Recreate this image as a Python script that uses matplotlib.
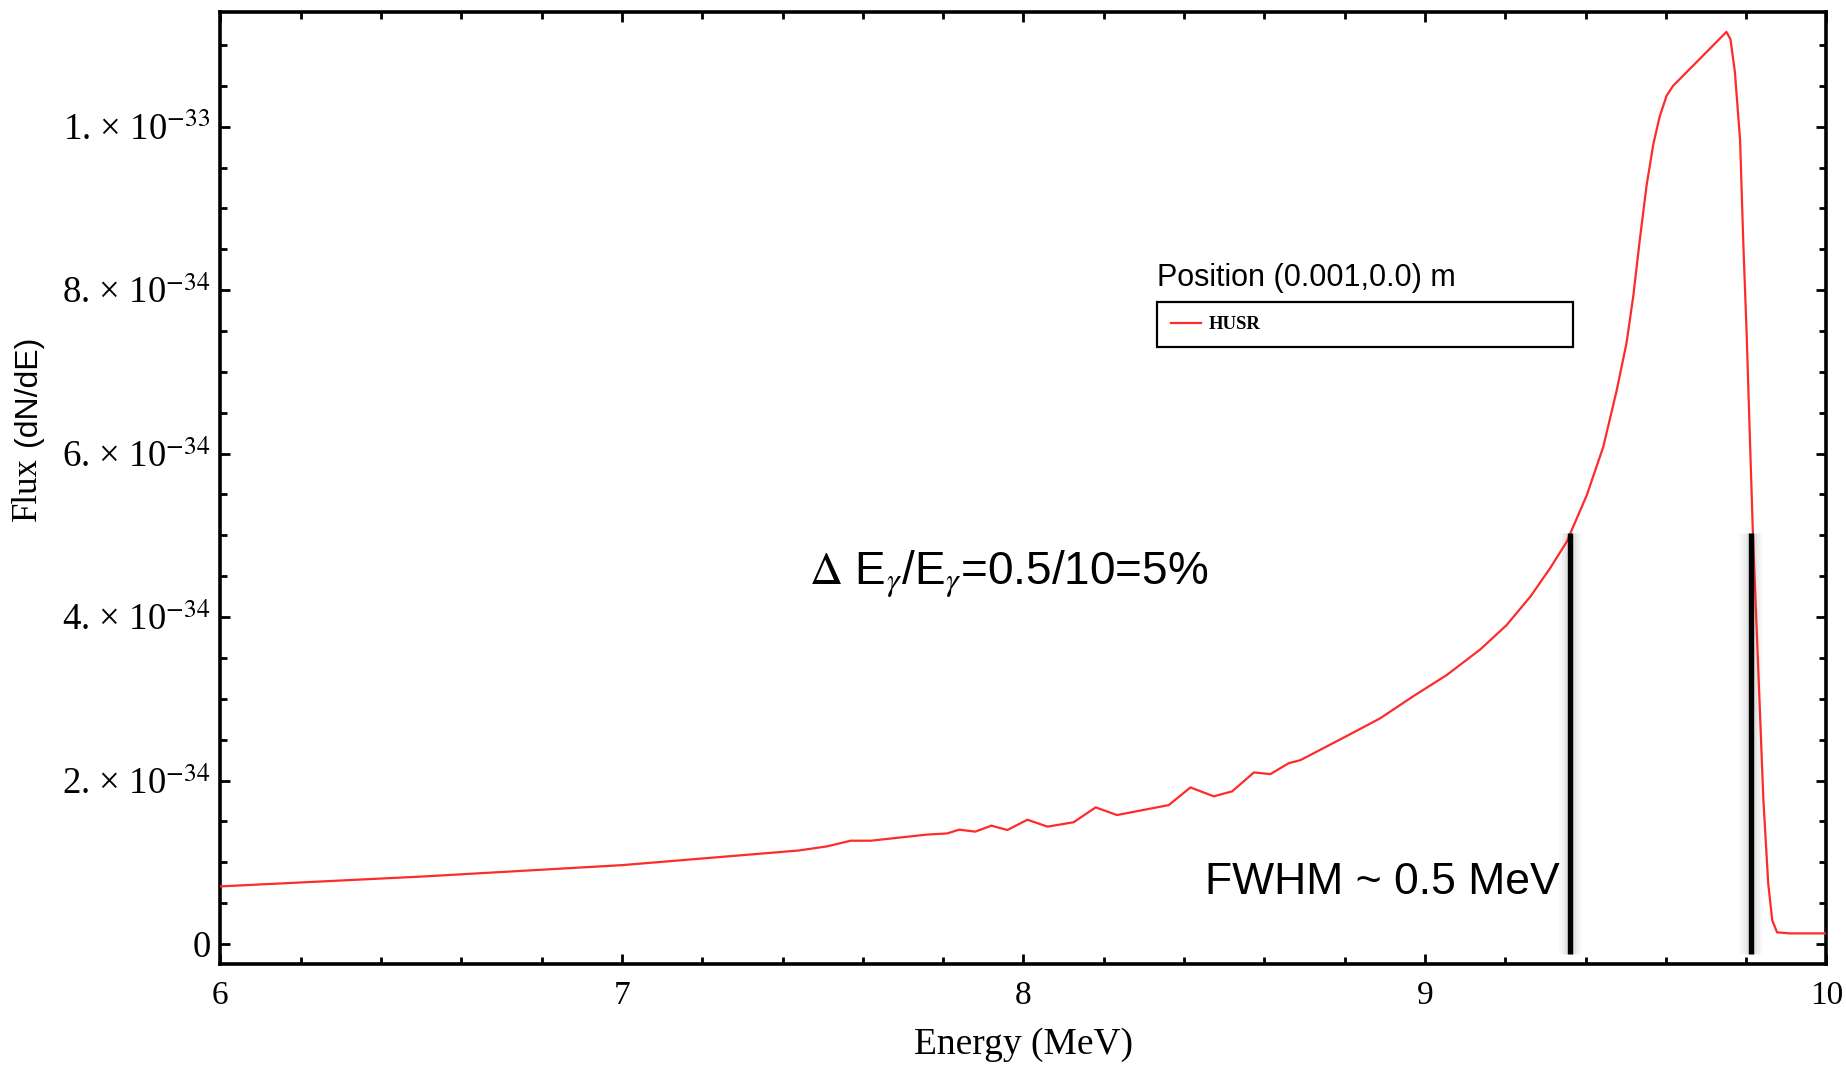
import matplotlib
matplotlib.use("Agg")
import matplotlib.pyplot as plt

# spectrum, flux in units of 1e-33
energy = [6.0, 6.5, 7.0, 7.44, 7.51, 7.57, 7.62, 7.76, 7.81, 7.84, 7.88, 7.92,
          7.96, 8.01, 8.06, 8.125, 8.18, 8.233, 8.362, 8.416, 8.474, 8.52,
          8.574, 8.615, 8.661, 8.69, 8.806, 8.888, 8.972, 9.054, 9.138, 9.203,
          9.263, 9.312, 9.353, 9.403, 9.444, 9.477, 9.502, 9.519, 9.535, 9.552,
          9.569, 9.585, 9.602, 9.618, 9.751, 9.761, 9.772, 9.785, 9.793, 9.801,
          9.809, 9.817, 9.830, 9.843, 9.855, 9.865, 9.877, 9.909, 10.0]
flux = [0.0705, 0.0825, 0.0965, 0.1144, 0.1194, 0.1264, 0.1264, 0.1339, 0.1353,
        0.1399, 0.1375, 0.1448, 0.1395, 0.1521, 0.1436, 0.149, 0.1672, 0.1578,
        0.170, 0.1916, 0.1807, 0.1868, 0.2099, 0.2079, 0.2213, 0.225, 0.2547,
        0.276, 0.3035, 0.329, 0.3605, 0.390, 0.4253, 0.4600, 0.492, 0.549,
        0.608, 0.676, 0.735, 0.793, 0.861, 0.928, 0.979, 1.013, 1.038, 1.050,
        1.116, 1.107, 1.067, 0.983, 0.857, 0.751, 0.625, 0.500, 0.339, 0.176,
        0.074, 0.029, 0.0143, 0.013, 0.013]
flux = [f * 1e-33 for f in flux]

x_ticks = [6, 7, 8, 9, 10]
y_ticks = [0, 2e-34, 4e-34, 6e-34, 8e-34, 1e-33]
y_tick_labels = ["0", "2. \u00d7 10$^{-34}$", "4. \u00d7 10$^{-34}$",
                 "6. \u00d7 10$^{-34}$", "8. \u00d7 10$^{-34}$",
                 "1. \u00d7 10$^{-33}$"]
fwhm_edges = [9.361, 9.812]
fwhm_top = 5.03e-34

plt.rcParams["font.family"] = "Liberation Serif"
plt.rcParams["mathtext.fontset"] = "stix"

fig = plt.figure(figsize=(18.46, 10.65), dpi=100)
ax = fig.add_axes([0.1194, 0.0948, 0.870, 0.8942])

ax.plot(energy, flux, color="#ff2a2a", lw=1.6, label="HUSR", zorder=3)

# FWHM markers with a soft grey shadow
for xe in fwhm_edges:
    for w, a in [(16, 0.05), (12, 0.07), (8, 0.1)]:
        ax.plot([xe, xe], [-0.0117e-33, fwhm_top], color="grey", lw=w, alpha=a,
                solid_capstyle="butt", zorder=2)
    ax.plot([xe, xe], [-0.0117e-33, fwhm_top], color="black", lw=3.9,
            solid_capstyle="butt", zorder=4)

ax.set_xlim(6, 10)
ax.set_ylim(-0.0245e-33, 1.1407e-33)
ax.set_xticks(x_ticks)
ax.set_xticks([6 + 0.2 * i for i in range(21)], minor=True)
ax.set_yticks(y_ticks)
ax.set_yticklabels(y_tick_labels)
ax.set_yticks([0.5e-34 * i for i in range(23)], minor=True)
ax.tick_params(which="both", direction="in", top=True, right=True, width=2)
ax.tick_params(which="major", length=7)
ax.tick_params(which="minor", length=5)
ax.tick_params(axis="x", pad=12, labelsize=24)
ax.tick_params(axis="y", pad=7, labelsize=26.5)
for s in ax.spines.values():
    s.set_linewidth(2.6)

ax.set_xlabel("Energy (MeV)", fontsize=27)
ax.xaxis.set_label_coords(0.5, -0.066)
# y label: serif "Flux" + sans "(dN/dE)"
ax.text(-0.1199, 0.499, "Flux", transform=ax.transAxes, rotation=90,
        fontsize=25, ha="center", va="center")
ax.text(-0.1199, 0.602, "(dN/dE)", transform=ax.transAxes, rotation=90,
        family="Liberation Sans", fontsize=23, ha="center", va="center")

leg = ax.legend(loc="upper left", bbox_to_anchor=(0.583, 0.651, 0.259, 0.044),
                mode="expand", borderaxespad=0, fancybox=False, edgecolor="black",
                framealpha=1, handlelength=1.6, handletextpad=0.4, borderpad=0.75,
                prop={"family": "Liberation Serif", "weight": "bold", "size": 13.5})
leg.get_frame().set_linewidth(1.6)

ax.text(0.583, 0.712, "Position (0.001,0.0) m", transform=ax.transAxes,
        family="Liberation Sans", fontsize=22, va="baseline", ha="left")
ax.text(7.466, 0.439e-33, r"$\mathrm{\Delta}$ E$_\gamma$/E$_\gamma$=0.5/10=5%",
        family="Liberation Sans", fontsize=33, va="baseline", ha="left")
ax.text(9.335, 0.061e-33, "FWHM ~ 0.5 MeV", family="Liberation Sans",
        fontsize=32, va="baseline", ha="right")

fig.savefig("out.png", dpi=100)
